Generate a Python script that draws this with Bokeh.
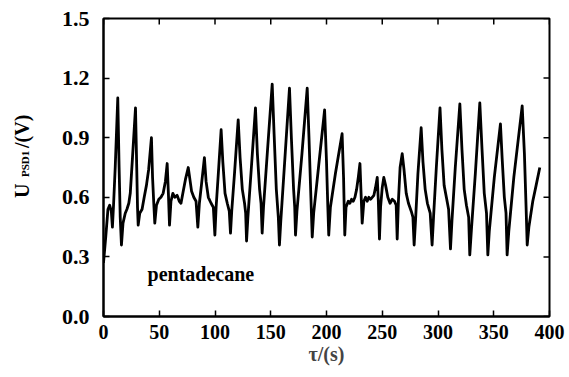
import math
from bokeh.plotting import figure
from bokeh.layouts import row
from bokeh.models import ColumnDataSource, Range1d, FixedTicker, Label
from bokeh.core.properties import value
from bokeh.embed import file_html
from bokeh.resources import INLINE

# ---- data ----
time_s = [
    0, 2, 4, 5.5, 7, 8, 9, 10.5, 12.8, 14, 15, 16.1, 17.5, 19.5, 21, 22.7, 24, 26, 28.7,
    29.8, 30.5, 31.1, 32.5, 34.6, 36.5, 38.5, 40.5, 43, 44, 45, 46, 47.5, 49.6, 51.5,
    53.5, 55.5, 57.1, 58.2, 59.2, 60.5, 62.2, 64, 66, 68, 69.5, 71.5, 73.5, 76, 77.5,
    79, 81, 83, 84.6, 86, 88, 90.5, 92, 94, 96.5, 98.5, 99.9, 101, 103, 105.5, 107,
    109, 111, 112.8, 113.9, 115, 117.5, 120.8, 122.5, 124.5, 126.5, 127.5, 128.3,
    129.5, 132.5, 136.3, 138, 140, 141.3, 142.3, 143.5, 147, 151.3, 153, 155, 156.8,
    157.8, 159, 162.5, 166.8, 168.5, 170.5, 171.5, 172.2, 173.5, 178, 182.7, 184.3,
    186, 187.2, 188.5, 193, 198.3, 200, 201.2, 202, 203.5, 208, 214, 215.3, 216.4,
    217.5, 219.5, 221, 222.5, 224, 225.5, 227, 228.5, 230, 231, 232, 233.5, 235,
    236.5, 238, 239.5, 241, 242.5, 244, 245.5, 246.5, 247.5, 248.5, 250, 251.4, 253,
    255, 257, 259, 261, 262.5, 263.4, 264.5, 266, 267.9, 269.5, 271.5, 273.5, 276,
    277.5, 278.6, 280, 282, 284.9, 286.5, 288.5, 290.5, 293, 294.7, 296, 298.5,
    301.8, 303.5, 305.5, 307.5, 309.5, 311.2, 312.5, 315.5, 319.6, 321.5, 323.5,
    325.5, 327.5, 328.5, 330, 333.5, 337.5, 339.5, 341.5, 343.5, 344.7, 346, 350.5,
    356, 357.5, 359.5, 361, 362, 363.5, 368, 375.5, 377.5, 379, 380, 381.5, 385,
    388, 391.3,
]
u_psd1 = [
    0.27, 0.40, 0.54, 0.56, 0.53, 0.45, 0.56, 0.75, 1.10, 0.75, 0.50, 0.36, 0.47, 0.52,
    0.54, 0.57, 0.62, 0.80, 1.05, 0.75, 0.55, 0.46, 0.52, 0.54, 0.60, 0.66, 0.74, 0.90,
    0.70, 0.58, 0.47, 0.56, 0.59, 0.60, 0.62, 0.68, 0.77, 0.62, 0.46, 0.58, 0.62, 0.60,
    0.61, 0.58, 0.57, 0.63, 0.69, 0.75, 0.69, 0.63, 0.60, 0.58, 0.45, 0.57, 0.67, 0.80,
    0.68, 0.60, 0.57, 0.55, 0.41, 0.55, 0.72, 0.94, 0.78, 0.62, 0.57, 0.53, 0.42, 0.53,
    0.72, 0.99, 0.80, 0.64, 0.57, 0.52, 0.38, 0.50, 0.74, 1.05, 0.82, 0.64, 0.57, 0.42,
    0.55, 0.83, 1.17, 0.92, 0.64, 0.50, 0.36, 0.48, 0.78, 1.15, 0.90, 0.64, 0.55, 0.41,
    0.53, 0.82, 1.15, 0.90, 0.60, 0.40, 0.52, 0.76, 1.04, 0.78, 0.55, 0.41, 0.55, 0.72,
    0.92, 0.70, 0.41, 0.55, 0.58, 0.57, 0.59, 0.58, 0.60, 0.64, 0.70, 0.77, 0.62, 0.47,
    0.58, 0.60, 0.58, 0.60, 0.59, 0.60, 0.61, 0.65, 0.70, 0.58, 0.39, 0.55, 0.65, 0.70,
    0.66, 0.60, 0.57, 0.59, 0.58, 0.56, 0.39, 0.58, 0.75, 0.82, 0.74, 0.62, 0.57, 0.53,
    0.50, 0.36, 0.50, 0.72, 0.95, 0.78, 0.64, 0.57, 0.52, 0.36, 0.50, 0.75, 1.05, 0.84,
    0.66, 0.60, 0.54, 0.34, 0.48, 0.75, 1.07, 0.84, 0.64, 0.56, 0.50, 0.31, 0.44, 0.72,
    1.075, 0.84, 0.62, 0.52, 0.31, 0.43, 0.70, 0.97, 0.80, 0.60, 0.52, 0.31, 0.43, 0.70,
    1.06, 0.82, 0.55, 0.36, 0.45, 0.58, 0.66, 0.75,
]
x_ticks = [0, 50, 100, 150, 200, 250, 300, 350, 400]
y_ticks = [0.0, 0.3, 0.6, 0.9, 1.2, 1.5]
y_tick_labels = {0.0: "0.0", 0.3: "0.3", 0.6: "0.6", 0.9: "0.9", 1.2: "1.2", 1.5: "1.5"}
x_title = "τ/(s)"
y_title_main = "U"
y_title_sub = "PSD1"
y_title_unit = "/(V)"
sample_label = "pentadecane"

FONT = "Liberation Serif"
X_MIN, X_MAX = 0, 400
Y_MIN, Y_MAX = 0.0, 1.5
FRAME_W = 446   # px
FRAME_H = 298   # px
TICK_PX = 6

y_range = Range1d(Y_MIN, Y_MAX)

# ---- left strip holding the rotated y-axis title ----
left = figure(
    width=45, height=377, output_backend="svg", toolbar_location=None,
    x_range=Range1d(0, 45), y_range=y_range,
    min_border_left=0, min_border_right=0, min_border_top=18, min_border_bottom=61,
)
left.axis.visible = False
left.grid.visible = False
left.outline_line_color = None
left.background_fill_color = "white"
left.border_fill_color = "white"
tstyle = dict(angle=math.pi / 2, text_font=value(FONT), text_font_style="bold",
              text_color="black", text_align="left", text_baseline="middle")
left.text(x=[21.5], y=[0.597], text=[y_title_main], text_font_size="20px", **tstyle)
left.text(x=[24.5], y=[0.702], text=[y_title_sub], text_font_size="11px", **tstyle)
left.text(x=[21.5], y=[0.848], text=[y_title_unit], text_font_size="20px", **tstyle)

# ---- main plot ----
p = figure(
    width=524, height=377, output_backend="svg", toolbar_location=None,
    x_range=Range1d(X_MIN, X_MAX), y_range=y_range,
    min_border_left=58, min_border_right=20, min_border_top=18, min_border_bottom=61,
)
p.background_fill_color = "white"
p.border_fill_color = "white"
p.outline_line_color = "black"
p.outline_line_width = 2
p.grid.visible = False

src = ColumnDataSource(dict(t=time_s, u=u_psd1))
p.line("t", "u", source=src, line_color="black", line_width=2.8, line_join="round")

def style_axis(ax):
    ax.axis_line_color = "black"
    ax.axis_line_width = 2
    ax.major_tick_in = TICK_PX
    ax.major_tick_out = 0
    ax.major_tick_line_width = 1.5
    ax.minor_tick_in = 0
    ax.minor_tick_out = 0
    ax.major_label_text_font = FONT
    ax.major_label_text_font_style = "bold"
    ax.major_label_text_color = "black"

xa = p.xaxis[0]
xa.ticker = FixedTicker(ticks=x_ticks)
style_axis(xa)
xa.major_label_text_font_size = "20px"
xa.major_label_standoff = 8
xa.axis_label = x_title
xa.axis_label_text_font = FONT
xa.axis_label_text_font_style = "bold"
xa.axis_label_text_font_size = "20px"
xa.axis_label_standoff = 1

ya = p.yaxis[0]
ya.ticker = FixedTicker(ticks=y_ticks)
ya.major_label_overrides = y_tick_labels
style_axis(ya)
ya.major_label_text_font_size = "22px"
ya.major_label_standoff = 14

# inward ticks on the top and right frame edges
dx = TICK_PX * (X_MAX - X_MIN) / FRAME_W
dy = TICK_PX * (Y_MAX - Y_MIN) / FRAME_H
p.segment(x0=[X_MAX] * len(y_ticks), x1=[X_MAX - dx] * len(y_ticks),
          y0=y_ticks, y1=y_ticks, line_color="black", line_width=1.5)
p.segment(x0=x_ticks, x1=x_ticks, y0=[Y_MAX] * len(x_ticks),
          y1=[Y_MAX - dy] * len(x_ticks), line_color="black", line_width=1.5)

p.add_layout(Label(x=39.5, y=0.215, text=sample_label, text_font=FONT,
                   text_font_style="bold", text_font_size="20px", text_color="black",
                   text_align="left", text_baseline="alphabetic"))

layout = row(left, p, spacing=0)
open("out.html", "w").write(file_html(layout, INLINE))
